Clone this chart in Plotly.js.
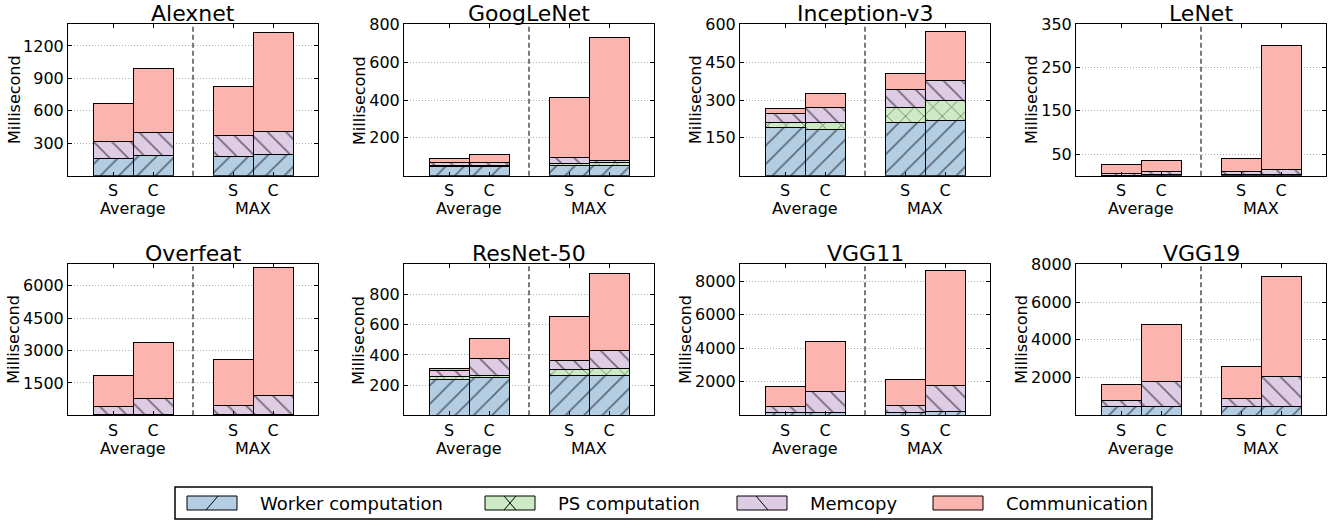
<!DOCTYPE html>
<html><head><meta charset="utf-8">
<script src="https://cdn.plot.ly/plotly-3.0.1.min.js"></script>
<style>body{margin:0;background:#fff}</style>
</head><body>
<div id="chart" style="width:1333px;height:521px"></div>
<script>
// ---- data ----
const models = ['Alexnet','GoogLeNet','Inception-v3','LeNet','Overfeat','ResNet-50','VGG11','VGG19'];
const barX = [1, 2, 4, 5];
const barLabels = ['S', 'C', 'S', 'C'];
const groupLabels = ['Average', 'MAX'];
const groupCenters = [1.5, 4.5];
const seriesNames = ['Worker computation', 'PS computation', 'Memcopy', 'Communication'];
// values in milliseconds, per model: [S avg, C avg, S max, C max]
const workerMs = [
  [161, 189, 174, 195],
  [50, 50, 54, 54],
  [191, 185, 210, 219],
  [1.5, 2, 2, 3],
  [50, 50, 50, 60],
  [240, 250, 262, 266],
  [173, 173, 173, 213],
  [450, 450, 450, 450]
];
const psMs = [
  [0, 0, 0, 0],
  [5, 5, 11, 14],
  [21, 26, 61, 81],
  [0, 0, 0, 0],
  [0, 0, 0, 0],
  [17, 16, 41, 42],
  [0, 0, 0, 0],
  [0, 0, 0, 0]
];
const memcopyMs = [
  [154, 206, 194, 213],
  [17, 17, 31, 14],
  [35, 58, 71, 79],
  [4, 7, 7, 12],
  [371, 710, 417, 870],
  [38, 112, 57, 121],
  [377, 1271, 417, 1568],
  [318, 1359, 441, 1624]
];
const commMs = [
  [355, 592, 456, 915],
  [21, 38, 318, 650],
  [18, 57, 64, 194],
  [21.5, 25, 30, 287],
  [1418, 2621, 2128, 5919],
  [15, 132, 295, 507],
  [1152, 2959, 1569, 6833],
  [865, 3019, 1677, 5260]
];
const yMax = [1400, 800, 600, 350, 7000, 1000, 9000, 8000];
const yTicks = [
  [300, 600, 900, 1200],
  [200, 400, 600, 800],
  [150, 300, 450, 600],
  [50, 150, 250, 350],
  [1500, 3000, 4500, 6000],
  [200, 400, 600, 800],
  [2000, 4000, 6000, 8000],
  [2000, 4000, 6000, 8000]
];

// ---- style ----
const seriesData = [workerMs, psMs, memcopyMs, commMs];
const colors = ['#b3cde3', '#ccebc5', '#decbe4', '#fbb4ae'];
const hatches = ['/', 'x', '\\', ''];
const W = 1333, H = 521;
const colPx = [[68, 318], [404, 654], [740, 990], [1076, 1326]];
const rowPx = [[24.3, 175.7], [264.3, 415.3]];
const FONT = 'DejaVu Sans, Liberation Sans, sans-serif';

const traces = [];
const layout = {
  width: W, height: H,
  margin: {l: 0, r: 0, t: 0, b: 0},
  paper_bgcolor: '#fff', plot_bgcolor: '#fff',
  barmode: 'stack', bargap: 0,
  font: {family: FONT, size: 16, color: '#000'},
  showlegend: false,
  annotations: [], shapes: []
};

models.forEach((name, m) => {
  const suf = m === 0 ? '' : String(m + 1);
  const col = m % 4, row = Math.floor(m / 4);
  seriesData.forEach((arr, s) => {
    const marker = {color: colors[s], line: {color: '#000', width: 1}};
    if (hatches[s]) marker.pattern = {shape: hatches[s], fgcolor: '#000', bgcolor: colors[s], size: 13, solidity: 0.12, fillmode: 'overlay'};
    traces.push({
      type: 'bar', x: barX, y: arr[m], width: 1,
      xaxis: 'x' + suf, yaxis: 'y' + suf,
      name: seriesNames[s], legendgroup: seriesNames[s], showlegend: false,
      marker: marker, hoverinfo: 'skip'
    });
  });
  layout['xaxis' + suf] = {
    domain: [colPx[col][0] / W, colPx[col][1] / W], anchor: 'y' + suf,
    range: [-0.125, 6.125], tickvals: barX, ticktext: barLabels,
    ticks: 'inside', ticklen: 4, tickcolor: '#000', mirror: 'ticks',
    showline: true, linecolor: '#000', linewidth: 1, showgrid: false, zeroline: false,
    tickfont: {family: FONT, size: 16}, fixedrange: true
  };
  layout['yaxis' + suf] = {
    domain: [1 - rowPx[row][1] / H, 1 - rowPx[row][0] / H], anchor: 'x' + suf,
    range: [0, yMax[m]], tickvals: yTicks[m],
    ticks: 'inside', ticklen: 4, tickcolor: '#000', mirror: 'ticks',
    showline: true, linecolor: '#000', linewidth: 1,
    showgrid: true, gridcolor: '#b0b0b0', griddash: '1px,2px', gridwidth: 1, zeroline: false,
    tickfont: {family: FONT, size: 16}, fixedrange: true
  };
  // subplot title
  layout.annotations.push({
    text: name, xref: 'x' + suf + ' domain', yref: 'y' + suf + ' domain',
    x: 0.5, y: 1, xanchor: 'center', yanchor: 'middle', yshift: 11,
    showarrow: false, font: {family: FONT, size: 22, color: '#000'}
  });
  // y-axis title
  const digits = String(Math.max(...yTicks[m])).length;
  layout.annotations.push({
    text: 'Millisecond', xref: 'x' + suf + ' domain', yref: 'y' + suf + ' domain',
    x: 0, y: 0.5, xanchor: 'center', yanchor: 'middle', textangle: -90,
    xshift: digits >= 4 ? -54 : -45,
    showarrow: false, font: {family: FONT, size: 16, color: '#000'}
  });
  groupLabels.forEach((g, k) => {
    layout.annotations.push({
      text: g, xref: 'x' + suf, yref: 'y' + suf + ' domain',
      x: groupCenters[k], y: 0, xanchor: 'center', yanchor: 'middle', yshift: -33,
      showarrow: false, font: {family: FONT, size: 16, color: '#000'}
    });
  });
  layout.shapes.push({
    type: 'line', xref: 'x' + suf, yref: 'y' + suf + ' domain',
    x0: 3, x1: 3, y0: 0, y1: 1, line: {color: '#222', width: 1.2, dash: '5px,3px'}
  });
});

// ---- manual legend (box, swatches, labels) ----
const px = v => v / W, py = v => 1 - v / H;
const legBox = {x0: 175, x1: 1152, y0: 487, y1: 519};
const swLeft = [187, 485, 737, 933], swW = 50, swTop = 496, swBot = 510, txtGap = 71;
layout.shapes.push({type: 'rect', xref: 'paper', yref: 'paper',
  x0: px(legBox.x0), x1: px(legBox.x1), y0: py(legBox.y1), y1: py(legBox.y0),
  line: {color: '#000', width: 1.5}, fillcolor: 'rgba(0,0,0,0)'});
seriesNames.forEach((nm, s) => {
  const l = swLeft[s], r = l + swW, c = l + swW / 2;
  layout.shapes.push({type: 'rect', xref: 'paper', yref: 'paper',
    x0: px(l), x1: px(r), y0: py(swBot), y1: py(swTop),
    line: {color: '#000', width: 1}, fillcolor: colors[s]});
  const h = hatches[s];
  if (h === '/' || h === 'x') layout.shapes.push({type: 'line', xref: 'paper', yref: 'paper',
    x0: px(c - 6), x1: px(c + 6), y0: py(swBot), y1: py(swTop), line: {color: '#000', width: 1}});
  if (h === '\\' || h === 'x') layout.shapes.push({type: 'line', xref: 'paper', yref: 'paper',
    x0: px(c - 6), x1: px(c + 6), y0: py(swTop), y1: py(swBot), line: {color: '#000', width: 1}});
  layout.annotations.push({text: nm, xref: 'paper', yref: 'paper',
    x: px(l + txtGap), y: py(503), xanchor: 'left', yanchor: 'middle',
    showarrow: false, font: {family: FONT, size: 18, color: '#000'}});
});

Plotly.newPlot('chart', traces, layout, {staticPlot: true, displayModeBar: false});
</script>
</body></html>
